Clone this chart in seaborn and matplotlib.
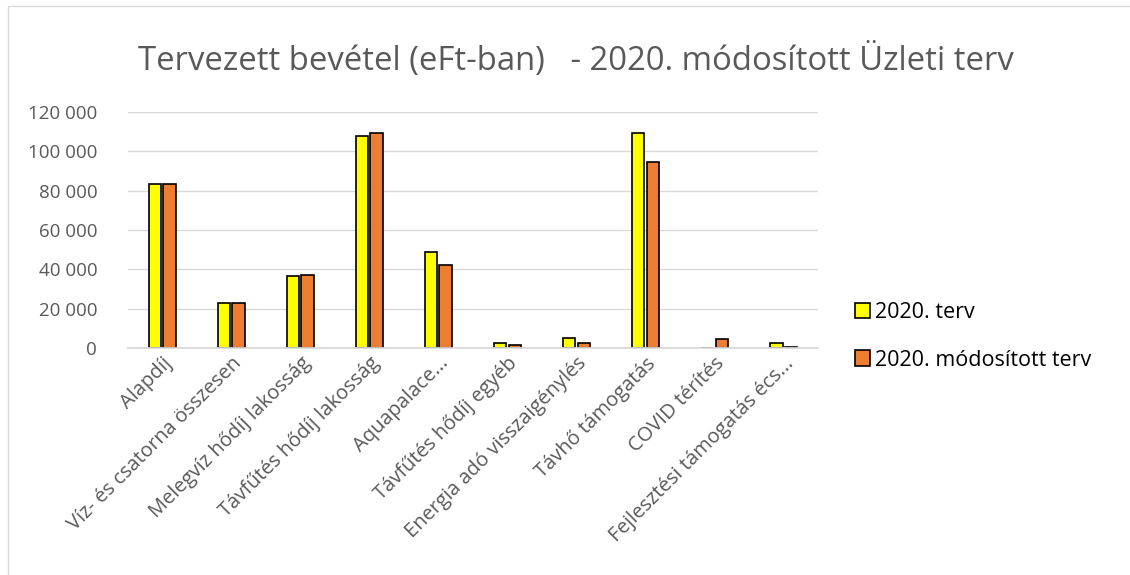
import pandas as pd
import seaborn as sns
import matplotlib.pyplot as plt
from matplotlib.ticker import FuncFormatter

categories = ['Alapdíj', 'Víz- és csatorna összesen', 'Melegvíz hődíj lakosság',
              'Távfűtés hődíj lakosság', 'Aquapalace...', 'Távfűtés hődíj egyéb',
              'Energia adó visszaigénylés', 'Távhő támogatás', 'COVID térítés',
              'Fejlesztési támogatás écs...']
terv = [83500, 23000, 36800, 107900, 49000, 2300, 5100, 109500, 0, 2700]
modositott = [83400, 23000, 37300, 109600, 42200, 1600, 2400, 94400, 4600, 400]
series = ['2020. terv', '2020. módosított terv']
colors = ['#FFFF00', '#ED7D31']

df = pd.DataFrame({
    'kategoria': categories * 2,
    'ertek': terv + modositott,
    'sorozat': [series[0]] * len(categories) + [series[1]] * len(categories),
})

sns.set_theme(style="white")
plt.rcParams['font.family'] = ['Open Sans', 'DejaVu Sans']
gray = '#595959'

fig = plt.figure(figsize=(11.3, 5.75), dpi=100)
ax = fig.add_axes([0.113, 0.395, 0.611, 0.41])

sns.barplot(data=df, x='kategoria', y='ertek', hue='sorozat', palette=colors,
            saturation=1, width=0.42, gap=0.15, edgecolor='black', linewidth=1.2, ax=ax)

ax.set_ylim(0, 120000)
ax.set_yticks(range(0, 120001, 20000))
ax.yaxis.set_major_formatter(FuncFormatter(lambda v, p: f'{int(v):,}'.replace(',', ' ')))
ax.grid(axis='y', color='#D9D9D9', linewidth=1)
ax.set_axisbelow(True)
for s in ['top', 'right', 'left']:
    ax.spines[s].set_visible(False)
ax.spines['bottom'].set_color('#D9D9D9')
ax.set_xlabel('')
ax.set_ylabel('')
ax.tick_params(axis='y', colors=gray, labelsize=13.5, length=0, pad=22)
ax.tick_params(axis='x', colors=gray, labelsize=14.5, length=0, pad=4)
plt.setp(ax.get_xticklabels(), rotation=45, ha='right', rotation_mode='anchor')

fig.text(0.51, 0.895, 'Tervezett bevétel (eFt-ban)   - 2020. módosított Üzleti terv',
         ha='center', va='center', fontsize=23.7, color=gray)

leg = ax.legend(loc='center left', bbox_to_anchor=(1.025, 0.05), frameon=False,
                fontsize=15.5, handlelength=0.7, handleheight=0.7, handletextpad=0.25,
                labelspacing=1.25)
for t in leg.get_texts():
    t.set_color('black')

# keret
fig.patches.append(plt.Rectangle((0.007, -0.01), 1.1, 1.0, transform=fig.transFigure,
                                 fill=False, edgecolor='#D9D9D9', linewidth=1))

fig.savefig('out.png', dpi=100)
